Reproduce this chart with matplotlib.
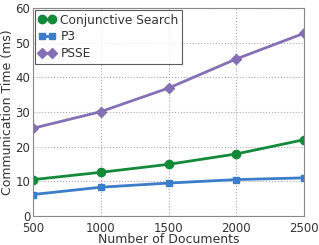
#!/usr/bin/env python3
# -*- coding: utf-8 -*-
import matplotlib

matplotlib.use("Agg")
import matplotlib.pyplot as plt

# data
docs = [500, 1000, 1500, 2000, 2500]
conjunctive = [10.5, 12.6, 14.9, 17.9, 22.0]
p3 = [6.2, 8.3, 9.5, 10.5, 11.0]
psse = [25.3, 30.1, 36.9, 45.3, 52.7]

GREEN = "#138a3a"
BLUE = "#3b7dc8"
PURPLE = "#8570b5"
TXT = "#333333"

plt.rcParams["font.family"] = "DejaVu Sans"

fig = plt.figure(figsize=(3.19, 2.45), dpi=100)
ax = fig.add_axes([33 / 319, 29 / 245, 271 / 319, 208 / 245])

ax.plot(docs, conjunctive, color=GREEN, lw=2, marker="o", ms=6, mec=GREEN,
        label="Conjunctive Search")
ax.plot(docs, p3, color=BLUE, lw=2, marker="s", ms=5, mec=BLUE, label="P3")
ax.plot(docs, psse, color=PURPLE, lw=2, marker="D", ms=5, mec=PURPLE,
        label="PSSE")

ax.set_xlim(500, 2500)
ax.set_ylim(0, 60)
ax.set_xticks([500, 1000, 1500, 2000, 2500])
ax.set_yticks([0, 10, 20, 30, 40, 50, 60])
ax.grid(True, ls=":", color="#aaaaaa", lw=0.8)
ax.set_axisbelow(True)
for sp in ax.spines.values():
    sp.set_color("#888888")
ax.tick_params(labelsize=8.5, labelcolor=TXT, length=0)
ax.tick_params(axis="x", pad=4)
ax.tick_params(axis="y", pad=2)
ax.set_xlabel("Number of Documents", fontsize=9, color=TXT, labelpad=-1)
ax.set_ylabel("Communication Time (ms)", fontsize=9, color=TXT, labelpad=1)

leg = ax.legend(loc="upper left", fontsize=8.8, numpoints=2, handlelength=1.4,
                handletextpad=0.4, borderpad=0.3, labelspacing=0.3,
                fancybox=False, borderaxespad=0.15)
leg.get_frame().set_edgecolor(TXT)
leg.get_frame().set_linewidth(0.8)
for t in leg.get_texts():
    t.set_color(TXT)

fig.savefig("out.png", dpi=100)
